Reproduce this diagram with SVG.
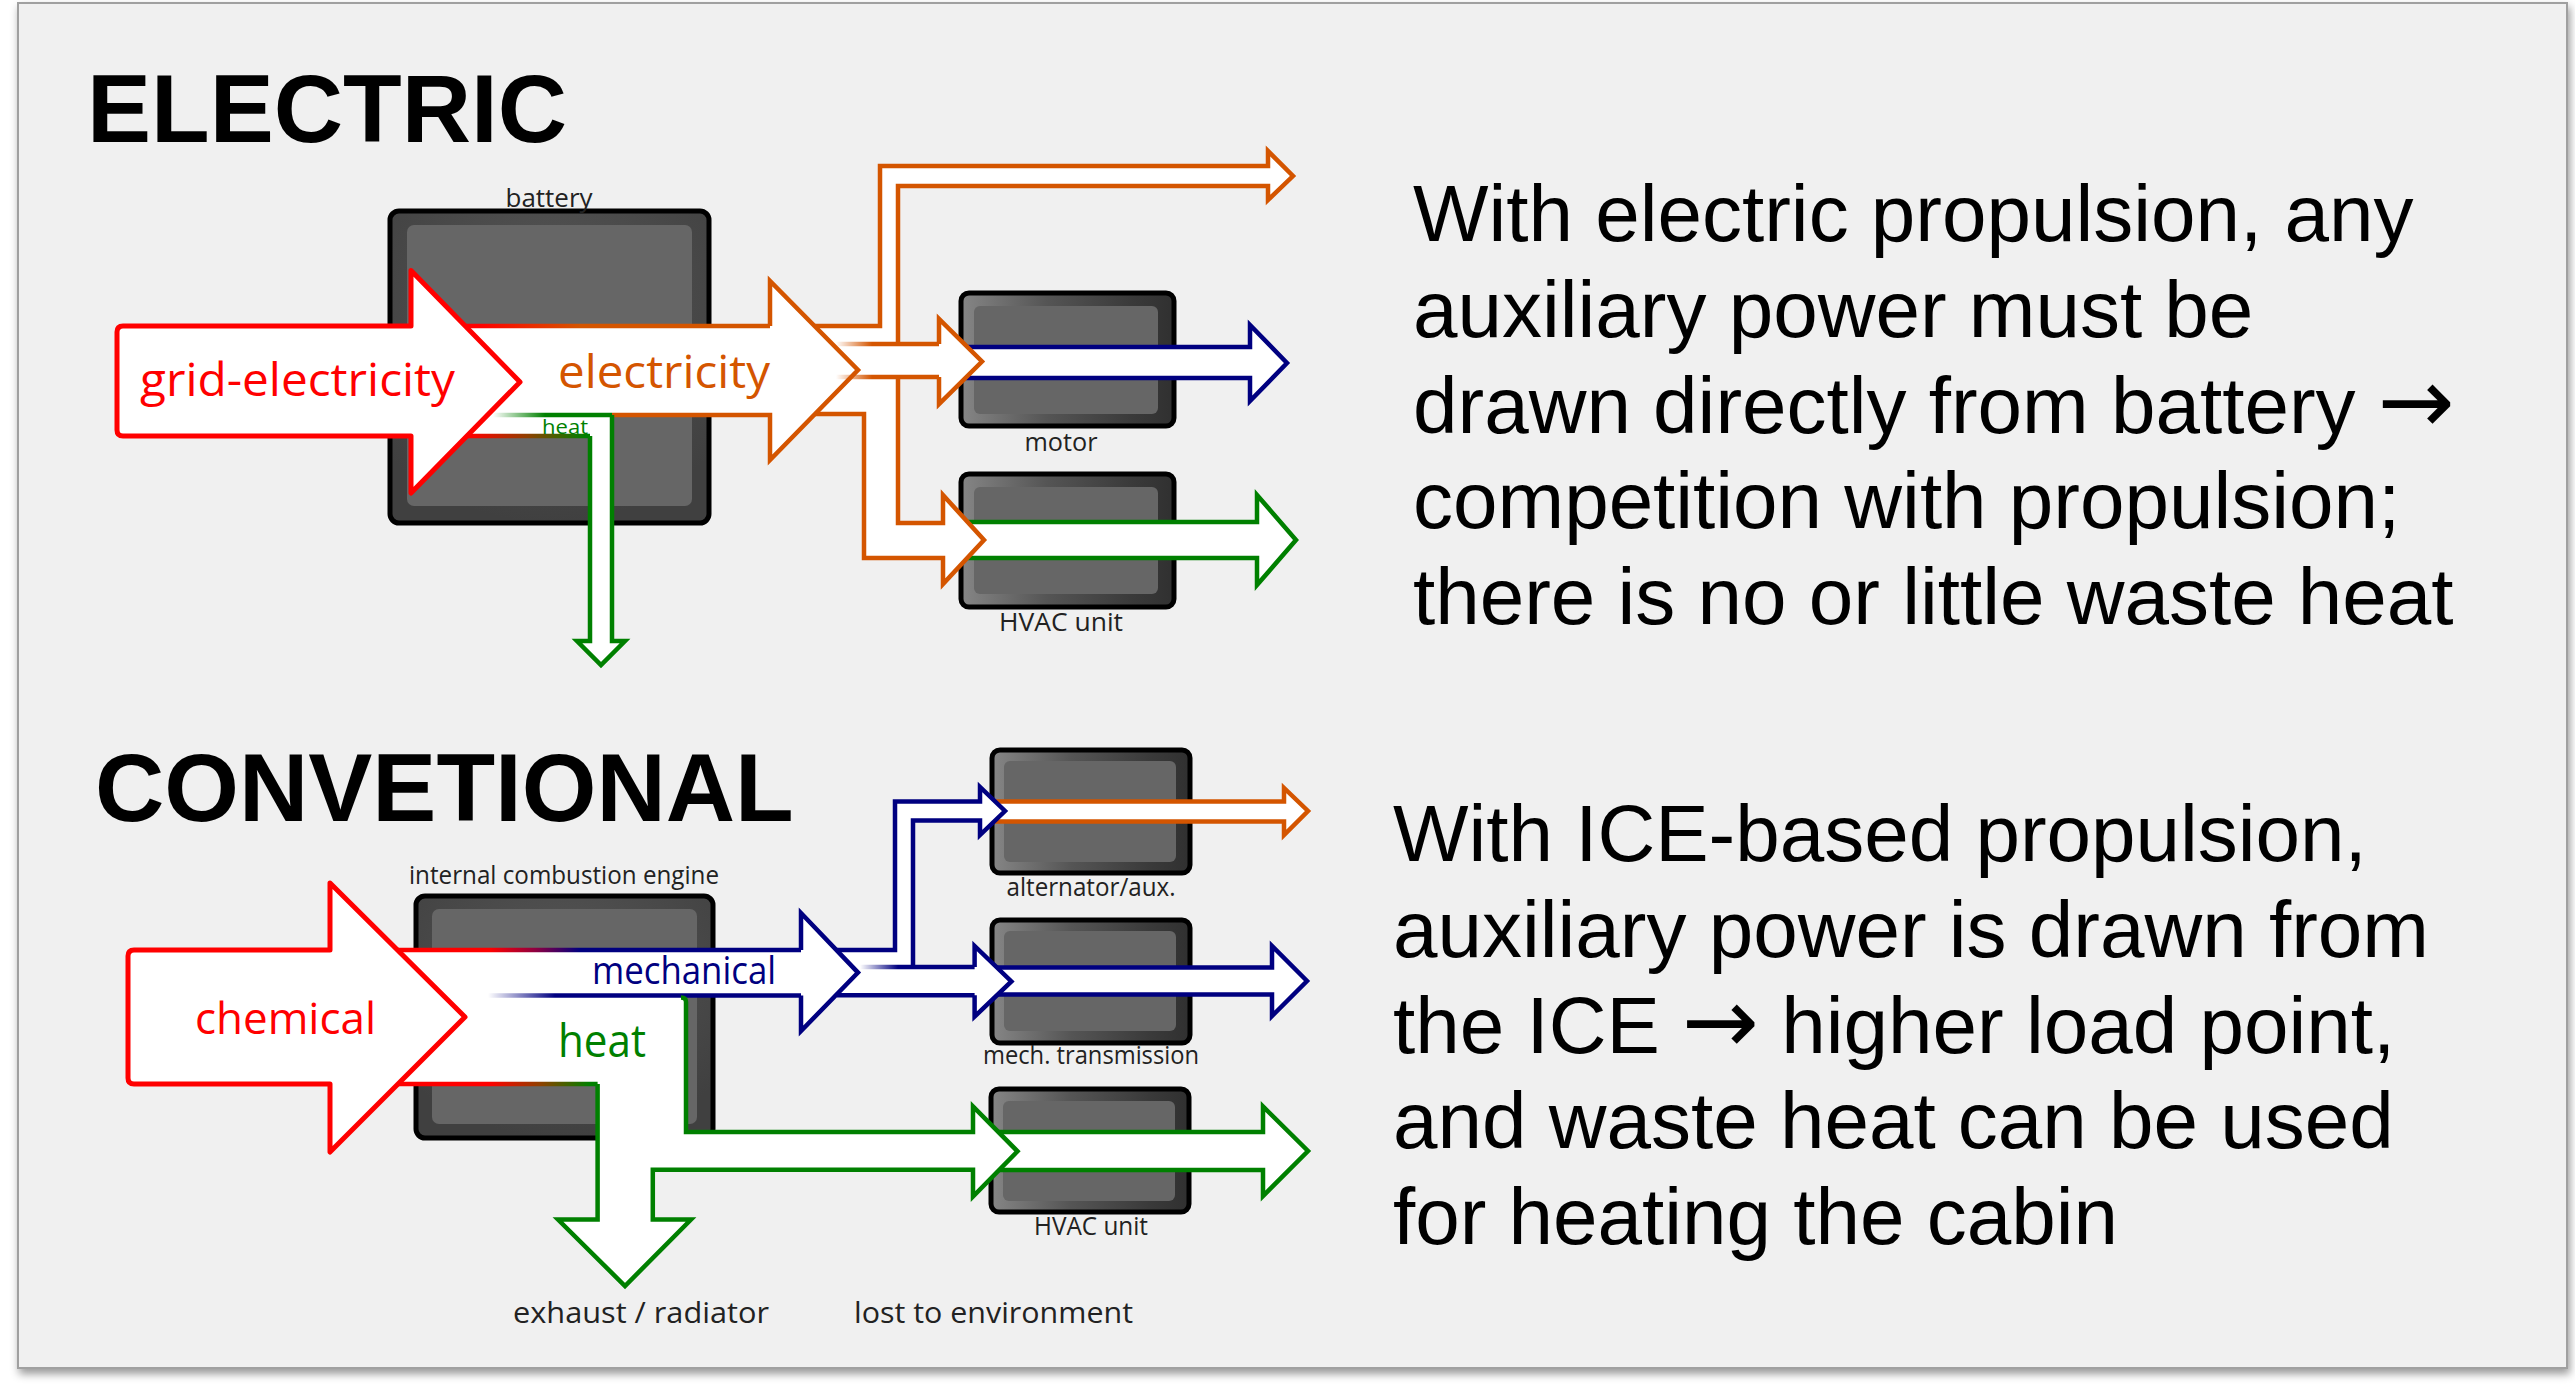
<svg xmlns="http://www.w3.org/2000/svg" width="2575" height="1394" viewBox="0 0 2575 1394">
<defs>
<style>
.title{font-family:"Liberation Sans",Arial,sans-serif;font-weight:bold;font-size:96px;fill:#000}
.body{font-family:"Liberation Sans",Arial,sans-serif;font-size:80px;fill:#000}
.arw{font-family:"DejaVu Sans",sans-serif;font-size:92px}
.lbl{font-family:"Open Sans","Noto Sans",sans-serif;font-size:25px;fill:#222;text-anchor:middle}
.lbl2{font-family:"Open Sans","Noto Sans",sans-serif;font-size:30px;fill:#222}
.ft{font-family:"Open Sans","Noto Sans",sans-serif}
.box{stroke:#000;stroke-width:5}
.inner{fill:#666}
.wf rect,.wf polygon{fill:#fff;stroke:none}
.ln{fill:none;stroke-width:4.5;stroke-linejoin:miter}
.fw{fill:#fff}
.or{stroke:#d45500}.nv{stroke:#000080}.gr{stroke:#008000}.rd{stroke:#ff0000}
</style>
<filter id="sh" x="-2%" y="-2%" width="104%" height="106%">
<feDropShadow dx="2" dy="5" stdDeviation="4" flood-color="#000" flood-opacity="0.4"/>
</filter>
<linearGradient id="boxg" x1="0" y1="0" x2="1" y2="0">
<stop offset="0" stop-color="#868686"/><stop offset="0.4" stop-color="#555"/><stop offset="0.8" stop-color="#3a3a3a"/><stop offset="1" stop-color="#303030"/>
</linearGradient>
<radialGradient id="bigg" cx="0.5" cy="0.3" r="0.7">
<stop offset="0" stop-color="#565656"/><stop offset="1" stop-color="#404040"/>
</radialGradient>
<linearGradient id="gElecTop" gradientUnits="userSpaceOnUse" x1="480" y1="0" x2="580" y2="0">
<stop offset="0" stop-color="#ff0000"/><stop offset="1" stop-color="#d45500"/>
</linearGradient>
<linearGradient id="gHeatTopE" gradientUnits="userSpaceOnUse" x1="493" y1="0" x2="545" y2="0">
<stop offset="0" stop-color="#008000" stop-opacity="0"/><stop offset="1" stop-color="#008000"/>
</linearGradient>
<linearGradient id="gHeatBotE" gradientUnits="userSpaceOnUse" x1="470" y1="0" x2="585" y2="0">
<stop offset="0" stop-color="#ff0000"/><stop offset="0.5" stop-color="#904000"/><stop offset="1" stop-color="#008000"/>
</linearGradient>
<linearGradient id="gFadeOr" gradientUnits="userSpaceOnUse" x1="836" y1="0" x2="872" y2="0">
<stop offset="0" stop-color="#d45500" stop-opacity="0"/><stop offset="1" stop-color="#d45500"/>
</linearGradient>
<linearGradient id="gMechTop" gradientUnits="userSpaceOnUse" x1="490" y1="0" x2="580" y2="0">
<stop offset="0" stop-color="#ff0000"/><stop offset="0.5" stop-color="#900040"/><stop offset="1" stop-color="#000080"/>
</linearGradient>
<linearGradient id="gMechBot" gradientUnits="userSpaceOnUse" x1="488" y1="0" x2="555" y2="0">
<stop offset="0" stop-color="#000080" stop-opacity="0"/><stop offset="1" stop-color="#000080"/>
</linearGradient>
<linearGradient id="gFadeNv" gradientUnits="userSpaceOnUse" x1="860" y1="0" x2="898" y2="0">
<stop offset="0" stop-color="#000080" stop-opacity="0"/><stop offset="1" stop-color="#000080"/>
</linearGradient>
<linearGradient id="gHeatBotC" gradientUnits="userSpaceOnUse" x1="490" y1="0" x2="590" y2="0">
<stop offset="0" stop-color="#ff0000"/><stop offset="0.5" stop-color="#904000"/><stop offset="1" stop-color="#008000"/>
</linearGradient>
</defs>

<rect width="2575" height="1394" fill="#fff"/>
<rect id="panel" x="18" y="3" width="2549" height="1365" fill="#f0f0f0" stroke="#a0a0a0" stroke-width="2" filter="url(#sh)"/>

<text class="title" x="87" y="142">ELECTRIC</text>
<text class="title" x="95" y="821">CONVETIONAL</text>

<!-- Electric nodes -->
<g id="battery">
<rect class="box" x="390" y="211" width="319" height="312" rx="9" fill="url(#bigg)"/>
<rect class="inner" x="407" y="225" width="285" height="281" rx="7"/>
<text class="lbl" x="549" y="207" textLength="87" lengthAdjust="spacingAndGlyphs">battery</text>
</g>
<g id="motor">
<rect class="box" x="961" y="293" width="213" height="133" rx="8" fill="url(#boxg)"/>
<rect class="inner" x="974" y="306" width="184" height="108" rx="6"/>
<text class="lbl" x="1061" y="451" textLength="73" lengthAdjust="spacingAndGlyphs">motor</text>
</g>
<g id="hvac-e">
<rect class="box" x="961" y="474" width="213" height="133" rx="8" fill="url(#boxg)"/>
<rect class="inner" x="974" y="487" width="184" height="107" rx="6"/>
<text class="lbl" x="1061" y="631" textLength="124" lengthAdjust="spacingAndGlyphs">HVAC unit</text>
</g>

<!-- Conventional nodes -->
<g id="ice">
<rect class="box" x="416" y="896" width="297" height="242" rx="9" fill="url(#bigg)"/>
<rect class="inner" x="432" y="909" width="265" height="215" rx="7"/>
<text class="lbl" x="564" y="884" textLength="310" lengthAdjust="spacingAndGlyphs">internal combustion engine</text>
</g>
<g id="alternator">
<rect class="box" x="992" y="750" width="198" height="123" rx="8" fill="url(#boxg)"/>
<rect class="inner" x="1004" y="761" width="172" height="101" rx="6"/>
<text class="lbl" x="1091" y="896" textLength="169" lengthAdjust="spacingAndGlyphs">alternator/aux.</text>
</g>
<g id="transmission">
<rect class="box" x="992" y="920" width="198" height="123" rx="8" fill="url(#boxg)"/>
<rect class="inner" x="1004" y="931" width="172" height="100" rx="6"/>
<text class="lbl" x="1091" y="1064" textLength="216" lengthAdjust="spacingAndGlyphs">mech. transmission</text>
</g>
<g id="hvac-c">
<rect class="box" x="991" y="1089" width="198" height="123" rx="8" fill="url(#boxg)"/>
<rect class="inner" x="1003" y="1101" width="172" height="100" rx="6"/>
<text class="lbl" x="1091" y="1235" textLength="114" lengthAdjust="spacingAndGlyphs">HVAC unit</text>
</g>

<g id="connectors">
<!-- Electric: outputs -->
<path class="ln nv fw" d="M950,347 H1250 V325 L1287,363 L1250,401 V378 H950"/>
<path class="ln gr fw" d="M950,522 H1257 V495 L1296,540 L1257,585 V558 H950"/>
<!-- Electric: white fills -->
<g class="wf">
<rect x="440" y="326" width="330" height="89"/>
<rect x="440" y="414" width="172" height="22"/>
<rect x="590" y="430" width="22" height="211"/>
<polygon points="577,641 625,641 601,665"/>
<polygon points="770,281 858,370 770,460"/>
<rect x="800" y="326" width="98" height="88"/>
<rect x="880" y="166" width="18" height="180"/>
<rect x="880" y="166" width="388" height="20"/>
<polygon points="1268,151 1293,176 1268,200"/>
<rect x="880" y="344" width="59" height="33"/>
<polygon points="939,319 982,361.5 939,404"/>
<rect x="864" y="377" width="34" height="181"/>
<rect x="864" y="523" width="79" height="35"/>
<polygon points="943,495 984,540 943,584"/>
</g>
<!-- Electric: lines -->
<path class="ln" stroke="url(#gElecTop)" d="M463,326 H770"/>
<path class="ln or" d="M770,326 V281 L858,370 L770,460 V415 H612"/>
<path class="ln" stroke="url(#gHeatTopE)" d="M493,415 H612"/>
<path class="ln gr" d="M612,415 V641 H625 L601,665 L577,641 H590 V436"/>
<path class="ln" stroke="url(#gHeatBotE)" d="M466,436 H590"/>
<path class="ln or" d="M815,326 H880 V166 H1268 V151 L1293,176 L1268,200 V186 H898 V344"/>
<path class="ln" stroke="url(#gFadeOr)" d="M836,344 H939"/>
<path class="ln" stroke="url(#gFadeOr)" d="M836,377 H939"/>
<path class="ln or" d="M939,344 V319 L982,361.5 L939,404 V377"/>
<path class="ln or" d="M815,414 H864 V558 H943 V584 L984,540 L943,495 V523 H898 V377"/>
<!-- Electric: input -->
<path fill="#fff" stroke="#ff0000" stroke-width="5" stroke-linejoin="round" d="M123,326 H411 V270.5 L520,382 L411,493 V436 H123 Q117,436 117,430 V332 Q117,326 123,326 Z"/>

<!-- Conventional: outputs -->
<path class="ln or fw" d="M988,801.5 H1284 V788 L1308,811 L1284,835 V821.4 H988"/>
<path class="ln nv fw" d="M988,967.6 H1272 V946 L1307,981 L1272,1016 V994.4 H988"/>
<path class="ln gr fw" d="M988,1132 H1263 V1106.5 L1308,1151 L1263,1196 V1170 H988"/>
<!-- Conventional: white fills -->
<g class="wf">
<rect x="400" y="950" width="401" height="46"/>
<polygon points="801,913 858,972.6 801,1031"/>
<rect x="830" y="950" width="83" height="18"/>
<rect x="830" y="966" width="145" height="29"/>
<rect x="895" y="801.5" width="18" height="166"/>
<rect x="895" y="801.5" width="85" height="19.5"/>
<polygon points="980,787 1005,811 980,835"/>
<polygon points="974.6,946 1011.4,981.4 974.6,1016.6"/>
<polygon points="400,995 686,995 686,1132 973,1132 973,1170 652.8,1170 652.8,1219.5 691,1219.5 625,1286 558,1219.5 597.6,1219.5 597.6,1084 400,1084"/>
<polygon points="973,1106.5 1017.5,1151.3 973,1196.5"/>
</g>
<!-- Conventional: lines -->
<path class="ln" stroke="url(#gMechTop)" d="M396,950 H801"/>
<path class="ln" stroke="url(#gMechBot)" d="M488,995.5 H801"/>
<path class="ln nv" d="M801,950 V913 L858,972.6 L801,1031 V995.5"/>
<path class="ln nv" d="M836.7,950 H895 V801.5 H980 V787 L1005,811 L980,835 V820.6 H913 V967"/>
<path class="ln" stroke="url(#gFadeNv)" d="M860,967 H974.6"/>
<path class="ln nv" d="M837,995.2 H974.6"/>
<path class="ln nv" d="M974.6,967 V946 L1011.4,981.4 L974.6,1016.6 V995.2"/>
<path class="ln" stroke="url(#gHeatBotC)" d="M396,1084 H597.6"/>
<path class="ln gr" d="M597.6,1084 V1219.5 H558 L625,1286 L691,1219.5 H652.8 V1169.7 H973 V1196.5 L1017.5,1151.3 L973,1106.5 V1132 H686 V1002 Q686,997.5 681,997.5"/>
<!-- Conventional: input -->
<path fill="#fff" stroke="#ff0000" stroke-width="5" stroke-linejoin="round" d="M134,950 H330 V883 L465,1017 L330,1152 V1084 H134 Q128,1084 128,1078 V956 Q128,950 134,950 Z"/>
</g>

<!-- Flow labels -->
<text class="ft" x="140" y="396" font-size="45" fill="#ff0000" textLength="315" lengthAdjust="spacingAndGlyphs">grid-electricity</text>
<text class="ft" x="558" y="388" font-size="45" fill="#d45500" textLength="212" lengthAdjust="spacingAndGlyphs">electricity</text>
<text class="ft" x="542" y="434" font-size="20" fill="#008000" textLength="46" lengthAdjust="spacingAndGlyphs">heat</text>
<text class="ft" x="195" y="1034" font-size="44" fill="#ff0000" textLength="181" lengthAdjust="spacingAndGlyphs">chemical</text>
<text class="ft" x="592" y="984" font-size="38" fill="#000080" textLength="184" lengthAdjust="spacingAndGlyphs">mechanical</text>
<text class="ft" x="558" y="1057" font-size="46" fill="#008000" textLength="88" lengthAdjust="spacingAndGlyphs">heat</text>

<text class="lbl2" x="513" y="1323" textLength="256" lengthAdjust="spacingAndGlyphs">exhaust / radiator</text>
<text class="lbl2" x="854" y="1323" textLength="279" lengthAdjust="spacingAndGlyphs">lost to environment</text>

<!-- Descriptions -->
<g id="text-electric">
<text class="body" x="1413" y="241">With electric propulsion, any</text>
<text class="body" x="1413" y="337">auxiliary power must be</text>
<text class="body" x="1413" y="433">drawn directly from battery <tspan class="arw">→</tspan></text>
<text class="body" x="1413" y="528">competition with propulsion;</text>
<text class="body" x="1413" y="624">there is no or little waste heat</text>
</g>
<g id="text-conventional">
<text class="body" x="1393" y="861">With ICE-based propulsion,</text>
<text class="body" x="1393" y="957">auxiliary power is drawn from</text>
<text class="body" x="1393" y="1053">the ICE <tspan class="arw">→</tspan> higher load point,</text>
<text class="body" x="1393" y="1148">and waste heat can be used</text>
<text class="body" x="1393" y="1244">for heating the cabin</text>
</g>
</svg>
